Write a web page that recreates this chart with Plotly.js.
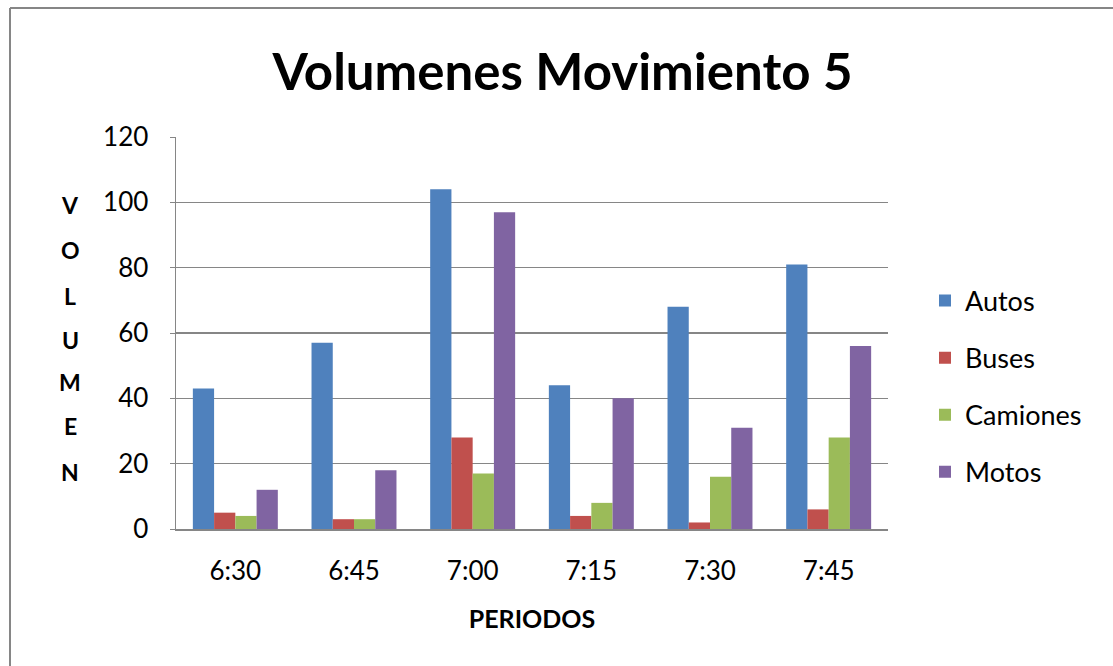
<!DOCTYPE html>
<html>
<head>
<meta charset="utf-8">
<script src="https://cdn.plot.ly/plotly-3.0.1.min.js"></script>
<style>
html,body{margin:0;padding:0;background:#fff;}
#chart{width:1113px;height:666px;}
</style>
</head>
<body>
<div id="chart"></div>
<script>
const periods = ["6:30", "6:45", "7:00", "7:15", "7:30", "7:45"];
const autos    = [43, 57, 104, 44, 68, 81];
const buses    = [5, 3, 28, 4, 2, 6];
const camiones = [4, 3, 17, 8, 16, 28];
const motos    = [12, 18, 97, 40, 31, 56];
const seriesNames = ["Autos", "Buses", "Camiones", "Motos"];
const seriesColors = ["#4F81BD", "#C0504D", "#9BBB59", "#8064A2"];
const yTitleLetters = ["V", "O", "L", "U", "M", "E", "N"];

const FONT = "Lato, 'Open Sans', sans-serif";
const seriesValues = [autos, buses, camiones, motos];

const traces = seriesNames.map((name, i) => ({
  type: "bar",
  name: name,
  x: periods,
  y: seriesValues[i],
  legendgroup: name,
  marker: {color: seriesColors[i], line: {width: 0}},
  hoverinfo: "x+y+name"
}));

// plot area in px: left 176, right 888, top 137, bottom 529
const L = 176, R = 888, T = 137, B = 529;
const W = R - L, H = B - T;
const px2x = p => (p - L) / W;
const py2y = p => (B - p) / H;

const letterY = [205, 250, 296, 340, 382, 426, 472];
const annotations = yTitleLetters.map((ch, i) => ({
  text: "<b>" + ch + "</b>",
  xref: "paper", yref: "paper",
  x: px2x(70), y: py2y(letterY[i]),
  xanchor: "center", yanchor: "middle",
  showarrow: false,
  font: {family: FONT, size: 23, color: "#000"}
}));

const layout = {
  width: 1113, height: 666,
  margin: {l: L, r: 1113 - R, t: T, b: 666 - B, pad: 0},
  paper_bgcolor: "#fff",
  plot_bgcolor: "#fff",
  font: {family: FONT, color: "#000"},
  title: {
    text: "<b>Volumenes Movimiento 5</b>",
    font: {family: FONT, size: 51, color: "#000"},
    x: 562.5 / 1113, xanchor: "center", xref: "container",
    y: 1 - 72/666, yanchor: "middle", yref: "container"
  },
  barmode: "group",
  bargap: 0.284,
  bargroupgap: 0,
  xaxis: {
    type: "category",
    showgrid: false,
    showline: true, linecolor: "#868686", linewidth: 1.5,
    ticks: "",
    tickfont: {family: FONT, size: 26, color: "#000"},
    ticklabelstandoff: 18,
    title: {text: "<b>PERIODOS</b>", font: {family: FONT, size: 25, color: "#000"}, standoff: 26},
    fixedrange: true
  },
  yaxis: {
    range: [0, 120],
    dtick: 20,
    showgrid: true, gridcolor: "#868686", gridwidth: 1.2,
    zeroline: false,
    showline: true, linecolor: "#868686", linewidth: 1.5,
    ticks: "outside", ticklen: 5, tickcolor: "#868686",
    tickfont: {family: FONT, size: 26, color: "#000"},
    ticklabelstandoff: 16,
    fixedrange: true
  },
  legend: {
    x: px2x(925), xanchor: "left",
    y: py2y(386.5), yanchor: "middle",
    traceorder: "grouped",
    tracegroupgap: 19,
    font: {family: FONT, size: 27, color: "#000"},
    itemwidth: 30,
    bgcolor: "rgba(0,0,0,0)"
  },
  annotations: annotations,
  shapes: [
    {type: "line", xref: "paper", yref: "paper", x0: px2x(10), x1: px2x(1113), y0: py2y(8), y1: py2y(8), line: {color: "#868686", width: 2}},
    {type: "line", xref: "paper", yref: "paper", x0: px2x(10), x1: px2x(10), y0: py2y(8), y1: py2y(666), line: {color: "#868686", width: 2}}
  ],
  showlegend: true
};

Plotly.newPlot("chart", traces, layout, {displayModeBar: false, staticPlot: true});
</script>
</body>
</html>
